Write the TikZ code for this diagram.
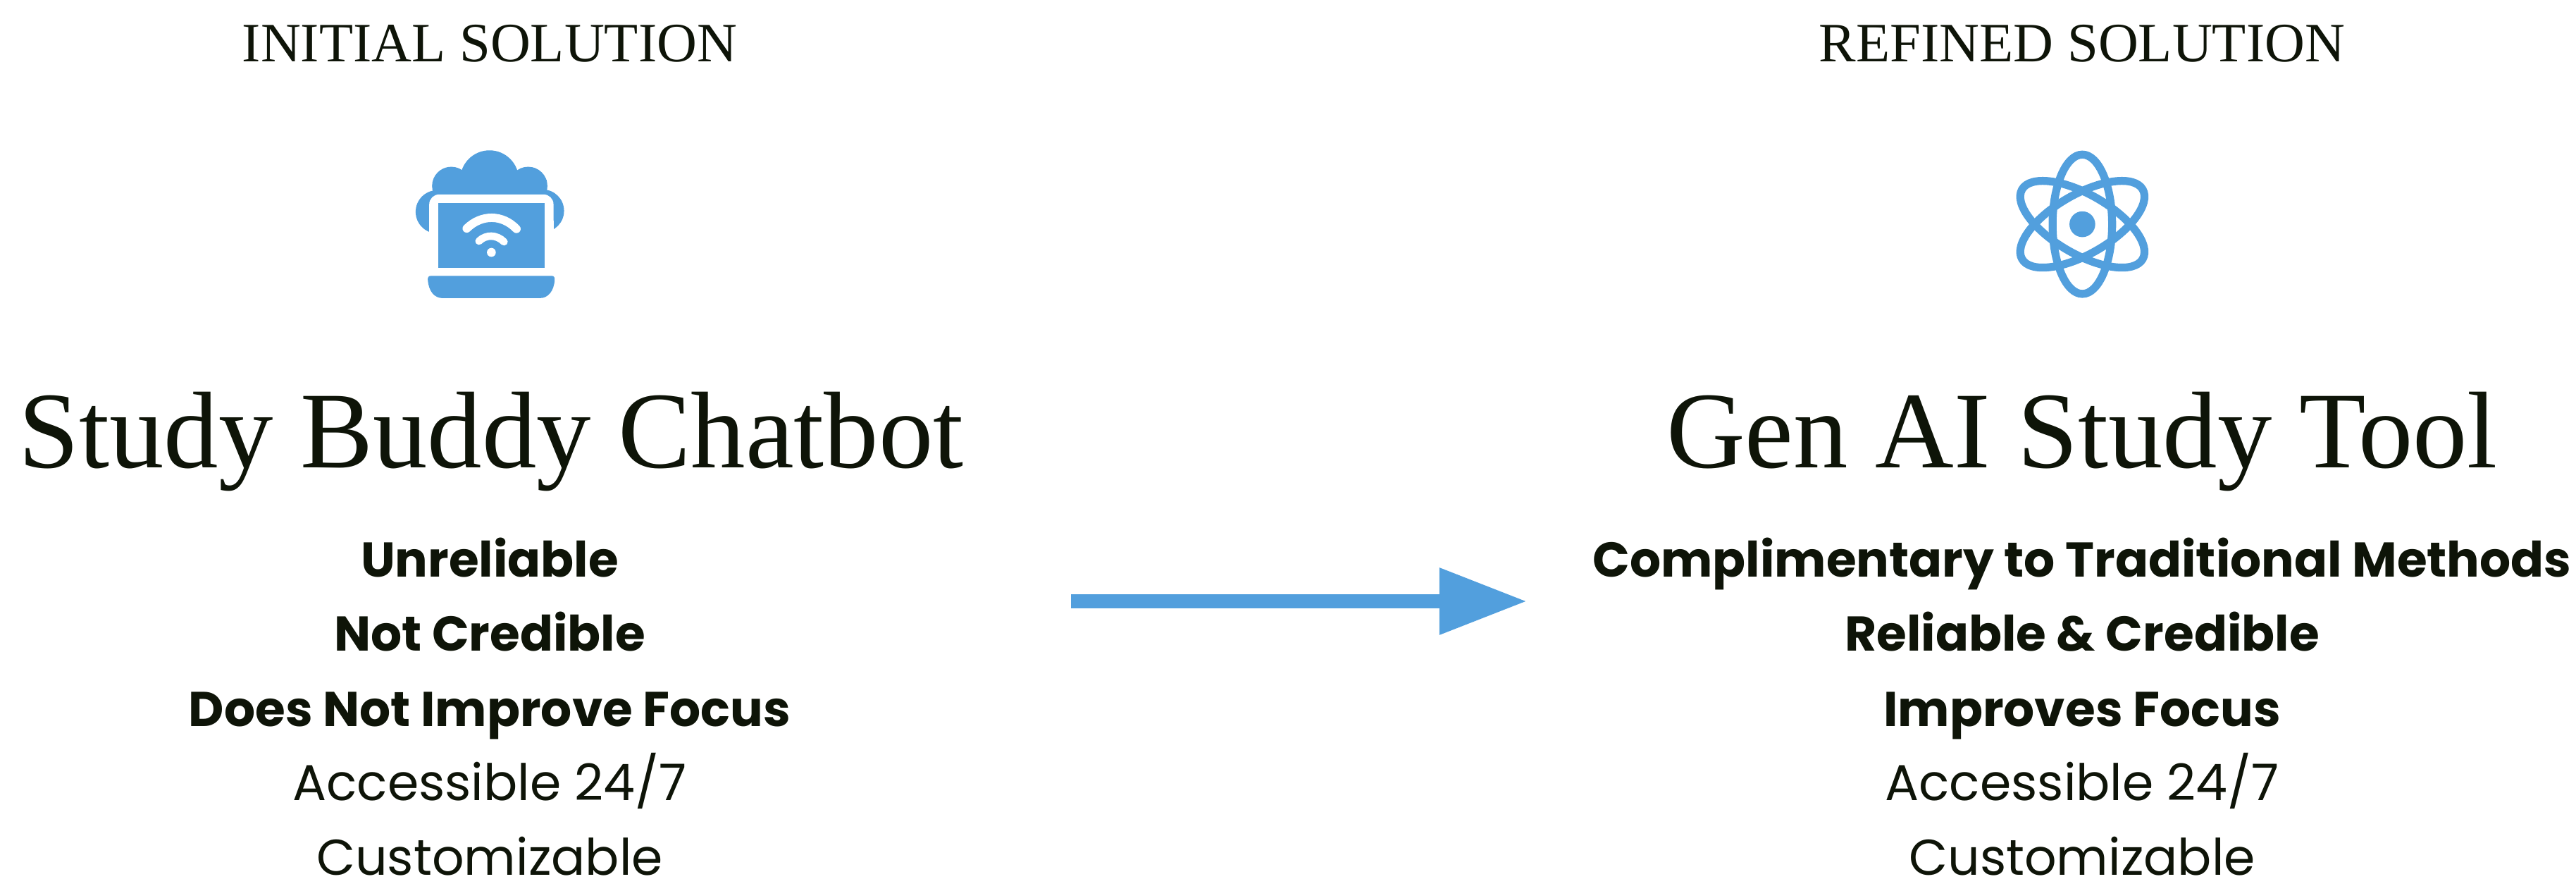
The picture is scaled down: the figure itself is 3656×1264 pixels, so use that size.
\documentclass[tikz,border=0pt]{standalone}
\usepackage{fontspec}
\setmainfont{Liberation Serif}
\newfontfamily\bodyfont{Poppins}
\usetikzlibrary{arrows.meta}
\definecolor{iconblue}{HTML}{529FDD}
\definecolor{inkdark}{HTML}{0E1408}
\tikzset{
headtext/.style={anchor=base,text=inkdark,font=\fontsize{22.4}{30}\selectfont},
titletext/.style={anchor=base,text=inkdark,font=\fontsize{44}{54}\selectfont},
boldline/.style={anchor=base,text=inkdark,font=\bodyfont\bfseries\fontsize{19.7}{28}\selectfont},
plainline/.style={anchor=base,text=inkdark,font=\bodyfont\fontsize{20.3}{28}\selectfont},
flowarrow/.style={draw=iconblue,line width=19*0.2845pt,-{Triangle[length=124*0.2845pt,width=90*0.2845pt]}},
atomring/.style={draw=iconblue,line width=3.2pt},
wifiarc/.style={draw=white,line cap=round}
}
\begin{document}
\begin{tikzpicture}[x=0.01cm,y=-0.01cm]
\useasboundingbox (0,0) rectangle (3656,1264);
% left column
\node[headtext] (headL) at (695,88) {INITIAL SOLUTION};
\node[titletext] (titleL) at (697,664) {Study Buddy Chatbot};
\node[boldline] (l1) at (695,818) {Unreliable};
\node[boldline] (l2) at (695,923) {Not Credible};
\node[boldline] (l3) at (695,1030) {Does Not Improve Focus};
\node[plainline] (l4) at (695,1135) {Accessible 24/7};
\node[plainline] (l5) at (695,1241) {Customizable};
% right column
\node[headtext] (headR) at (2955,88) {REFINED SOLUTION};
\node[titletext] (titleR) at (2955,664) {Gen AI Study Tool};
\node[boldline] (r1) at (2955,818) {Complimentary to Traditional Methods};
\node[boldline] (r2) at (2955,923) {Reliable \& Credible};
\node[boldline] (r3) at (2955,1030) {Improves Focus};
\node[plainline] (r4) at (2955,1135) {Accessible 24/7};
\node[plainline] (r5) at (2955,1241) {Customizable};
% arrow
\coordinate (arrowL) at (1520,853); \coordinate (arrowR) at (2167,853);
\draw[flowarrow] (arrowL)--(arrowR);
% laptop icon
\begin{scope}[shift={(520,180)},x=0.003333cm,y=-0.003333cm]
\fill[iconblue] (525,225) circle (125); \fill[iconblue] (362,252) circle (82); \fill[iconblue] (690,252) circle (82);
\fill[iconblue] (302,362) circle (92); \fill[iconblue] (752,358) circle (91);
\fill[iconblue] (285,225) rectangle (770,300);
\fill[white,rounded corners=4pt] (268,288) rectangle (798,620);
\fill[white] (268,400) rectangle (798,620);
\fill[iconblue] (305,325) rectangle (760,600);
\draw[wifiarc,line width=3.4pt] (428,433) .. controls (490,372) and (580,372) .. (640,435);
\draw[wifiarc,line width=3pt] (480,487) .. controls (510,458) and (555,458) .. (587,490);
\fill[white] (533,535) circle (19);
\fill[iconblue] (275,635) -- (790,635) .. controls (800,635) and (804,642) .. (803,652) .. controls (800,700) and (775,730) .. (740,730) -- (325,730) .. controls (290,730) and (265,700) .. (262,652) .. controls (261,642) and (265,635) .. (275,635) -- cycle;
\end{scope}
% atom icon
\begin{scope}[shift={(2780,180)},x=0.003333cm,y=-0.003333cm]
\foreach \ang in {0,60,120} {
\draw[atomring,rotate around={\ang:(527,415)}] (527,415) ellipse [x radius=127,y radius=297];
}
\fill[iconblue] (527,415) circle (55);
\end{scope}
\end{tikzpicture}
\end{document}
